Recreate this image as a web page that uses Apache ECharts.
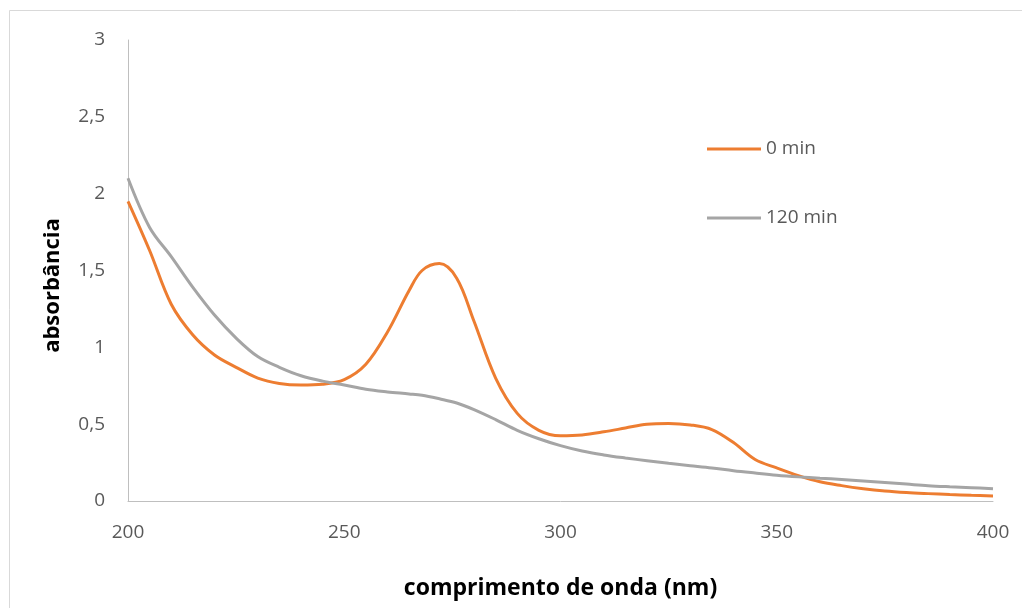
<!DOCTYPE html>
<html>
<head>
<meta charset="utf-8">
<script src="https://cdn.jsdelivr.net/npm/echarts@6/dist/echarts.min.js"></script>
<style>html,body{margin:0;padding:0;background:#fff;}#c{width:1022px;height:608px;}</style>
</head>
<body>
<div id="c"></div>
<script>
const wavelengths = [200,205,210,215,220,225,230,235,240,245,250,255,260,265,268,272,276,280,285,290,295,300,305,310,315,320,325,330,335,340,345,350,355,360,365,370,375,380,385,390,395,400];
const abs0min = [1.95,1.63,1.28,1.08,0.95,0.87,0.80,0.765,0.755,0.76,0.79,0.89,1.10,1.37,1.50,1.545,1.45,1.17,0.80,0.57,0.46,0.425,0.43,0.45,0.475,0.50,0.505,0.495,0.465,0.38,0.27,0.215,0.165,0.125,0.10,0.08,0.065,0.055,0.048,0.042,0.037,0.033];
const abs120min = [2.10,1.78,1.59,1.39,1.21,1.06,0.94,0.87,0.815,0.78,0.755,0.727,0.71,0.697,0.688,0.665,0.638,0.595,0.53,0.46,0.405,0.36,0.325,0.30,0.28,0.262,0.245,0.23,0.215,0.197,0.182,0.168,0.157,0.148,0.14,0.13,0.12,0.11,0.10,0.093,0.087,0.08];
const seriesNames = ['0 min','120 min'];
const xTicks = [200,250,300,350,400];
const yTicks = [0,0.5,1,1.5,2,2.5,3];

const pair = arr => wavelengths.map((w,i)=>[w,arr[i]]);
const FONT = '"Open Sans", Lato, sans-serif';
const chart = echarts.init(document.getElementById('c'));
chart.setOption({
  animation:false,
  backgroundColor:'#fff',
  graphic:[{type:'rect',shape:{x:9.5,y:10.5,width:1030,height:620},style:{fill:'none',stroke:'#D9D9D9',lineWidth:1},silent:true}],
  grid:{left:128,right:29,top:40,bottom:107,containLabel:false},
  legend:{
    data:seriesNames, orient:'vertical', left:707, top:139, padding:0,
    icon:'rect', itemWidth:54, itemHeight:3, itemGap:49,
    textStyle:{fontFamily:FONT,fontSize:19,color:'#595959',lineHeight:20}
  },
  xAxis:{
    type:'value', min:xTicks[0], max:xTicks[xTicks.length-1], interval:50,
    name:'comprimento de onda (nm)', nameLocation:'middle', nameGap:76,
    nameTextStyle:{fontFamily:FONT,fontSize:23,fontWeight:'bold',color:'#000'},
    axisLine:{show:true,lineStyle:{color:'#BFBFBF',width:1}},
    axisTick:{show:false}, splitLine:{show:false},
    axisLabel:{fontFamily:FONT,fontSize:19,color:'#595959',margin:22}
  },
  yAxis:{
    type:'value', min:yTicks[0], max:yTicks[yTicks.length-1], interval:0.5,
    name:'absorbância', nameLocation:'middle', nameGap:64, nameRotate:90,
    nameTextStyle:{fontFamily:FONT,fontSize:22,fontWeight:'bold',color:'#000',padding:[0,30,0,0]},
    axisLine:{show:true,lineStyle:{color:'#BFBFBF',width:1}},
    axisTick:{show:false}, splitLine:{show:false},
    axisLabel:{fontFamily:FONT,fontSize:19,color:'#595959',margin:23,
      formatter:v=>String(v).replace('.',',')}
  },
  series:[
    {name:seriesNames[0],type:'line',data:pair(abs0min),smooth:0.35,symbol:'none',
     lineStyle:{color:'#ED7D31',width:3},itemStyle:{color:'#ED7D31'}},
    {name:seriesNames[1],type:'line',data:pair(abs120min),smooth:0.35,symbol:'none',
     lineStyle:{color:'#A5A5A5',width:3},itemStyle:{color:'#A5A5A5'}}
  ]
});
</script>
</body>
</html>
